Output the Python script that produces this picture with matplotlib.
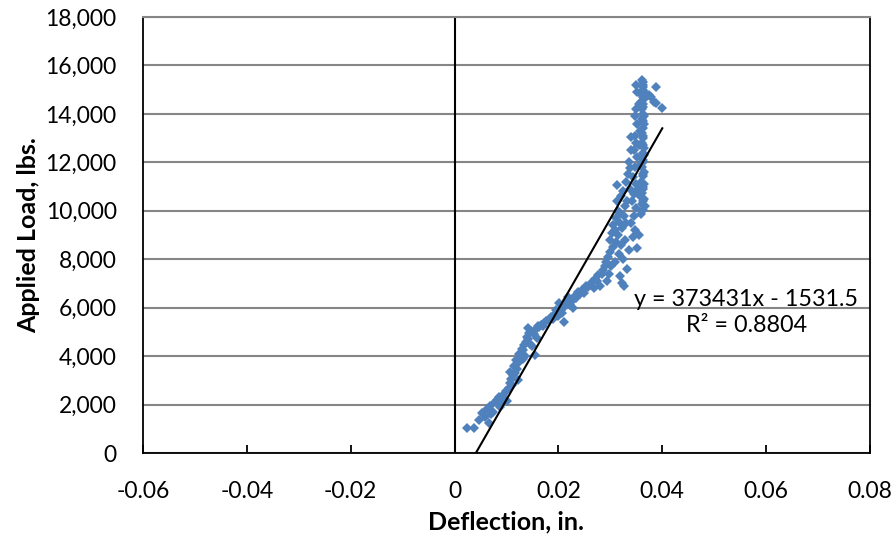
import numpy as np
import matplotlib
matplotlib.use("Agg")
from matplotlib import pyplot as plt
from matplotlib.ticker import FuncFormatter, MultipleLocator

# Deflection (in.) and applied load (lbs.)
deflection_low = [0.0023, 0.0037, 0.0048, 0.0052, 0.0058, 0.0062, 0.0066, 0.0068, 0.0071, 0.0074,
                  0.0078, 0.0081, 0.0085, 0.0088, 0.0090, 0.0093, 0.0096, 0.0099, 0.0101, 0.0104,
                  0.0106, 0.0107, 0.0109, 0.0111, 0.0113, 0.0115, 0.0116, 0.0118, 0.0120, 0.0122,
                  0.0123, 0.0125, 0.0127, 0.0129, 0.0131, 0.0132, 0.0134, 0.0136, 0.0137, 0.0139,
                  0.0141, 0.0142, 0.0144, 0.0146, 0.0148, 0.0150, 0.0152, 0.0154, 0.0156, 0.0158,
                  0.0160, 0.0163, 0.0166, 0.0170, 0.0173, 0.0177, 0.0181, 0.0185, 0.0189]
load_low = [1030, 1020, 1350, 1650, 1500, 1800, 1250, 1950, 1600, 1700,
            2100, 2200, 2300, 1900, 2050, 2400, 2250, 2550, 2150, 2700,
            3350, 2900, 3050, 2800, 3200, 3600, 3300, 3850, 3450, 3000,
            3700, 4100, 3950, 4300, 4250, 3900, 4450, 4000, 4600, 4800,
            5150, 4700, 4950, 4500, 5050, 4400, 4900, 4050, 5100, 4750,
            5250, 5200, 5300, 5250, 5350, 5450, 5500, 5600, 5550]

deflection_mid = [0.0193, 0.0196, 0.0199, 0.0201, 0.0204, 0.0207, 0.0210, 0.0213, 0.0216, 0.0219,
                  0.0222, 0.0225, 0.0228, 0.0231, 0.0234, 0.0237, 0.0241, 0.0245, 0.0249, 0.0253,
                  0.0257, 0.0261, 0.0265, 0.0268, 0.0271, 0.0274, 0.0277, 0.0280, 0.0283, 0.0286]
load_mid = [5750, 5900, 5650, 6200, 5900, 5800, 5400, 6050, 6300, 6450,
            6100, 6250, 6000, 6500, 6400, 6650, 6550, 6750, 6600, 6900,
            6850, 6950, 7050, 6800, 7200, 7100, 7350, 6900, 7400, 7550]

deflection_steep = [0.0289, 0.0291, 0.0293, 0.0295, 0.0297, 0.0299, 0.0300, 0.0302, 0.0303, 0.0305,
                    0.0306, 0.0308, 0.0309, 0.0310, 0.0311, 0.0312, 0.0313, 0.0314, 0.0315, 0.0316,
                    0.0317, 0.0318, 0.0319, 0.0320, 0.0321, 0.0322, 0.0323, 0.0324, 0.0325, 0.0326,
                    0.0327, 0.0328, 0.0329, 0.0330, 0.0331, 0.0332, 0.0333, 0.0334, 0.0335, 0.0336,
                    0.0337, 0.0338, 0.0339, 0.0339]
load_steep = [7700, 7900, 7100, 8100, 7400, 8300, 8800, 7700, 9100, 8500,
              9400, 7900, 9200, 9700, 8700, 11050, 10400, 9000, 10000, 9550,
              8200, 7300, 9900, 8600, 10600, 7000, 9300, 10800, 8000, 9800,
              6900, 10200, 8800, 11200, 9500, 10400, 7600, 11500, 8400, 12000,
              11750, 10900, 13050, 12500]

deflection_column = [0.0362, 0.0360, 0.0364, 0.0361, 0.0363, 0.0359, 0.0362, 0.0365, 0.0361, 0.0363,
                     0.0360, 0.0362, 0.0364, 0.0361, 0.0363, 0.0360, 0.0362, 0.0364, 0.0361, 0.0363,
                     0.0360, 0.0362, 0.0364, 0.0361, 0.0363, 0.0362, 0.0361, 0.0363, 0.0365, 0.0359,
                     0.0365, 0.0358, 0.0365, 0.0358, 0.0365, 0.0357, 0.0366, 0.0359,
                     0.0363, 0.0362, 0.0363, 0.0362, 0.0363, 0.0362, 0.0363, 0.0362, 0.0363, 0.0362,
                     0.0349, 0.0351, 0.0350, 0.0348, 0.0352, 0.0347, 0.0350, 0.0346, 0.0351, 0.0348,
                     0.0344, 0.0350, 0.0346, 0.0342, 0.0349, 0.0345, 0.0340, 0.0347, 0.0343, 0.0351,
                     0.0355, 0.0354, 0.0356, 0.0355]
load_column = [10050, 10300, 10500, 10750, 11000, 11200, 11450, 11600, 11800, 12000,
               12200, 12400, 12600, 12800, 13000, 13200, 13400, 13600, 13800, 14000,
               14200, 14400, 14600, 14800, 15000, 15200, 15400, 15300, 14900, 14500,
               13900, 13300, 12300, 11900, 11100, 10600, 10200, 9850,
               15100, 14700, 14300, 13700, 13100, 12700, 12100, 11500, 10900, 10400,
               15200, 14900, 14200, 13900, 13600, 13100, 12800, 12500, 12200, 11800,
               11400, 11100, 10700, 10400, 10100, 9800, 9500, 9200, 8900, 8450,
               9000, 10900, 12700, 14400]

deflection_outlier = [0.0375, 0.0378, 0.0387, 0.0385, 0.0388, 0.0399]
load_outlier = [14800, 14700, 15100, 14500, 14450, 14250]

# linear trendline as reported in the chart
slope = 373431
intercept = -1531.5
r_squared = 0.8804
trend_end = 0.04

x = np.array(deflection_low + deflection_mid + deflection_steep + deflection_column + deflection_outlier)
y = np.array(load_low + load_mid + load_steep + load_column + load_outlier)

plt.rcParams['font.family'] = ['Lato', 'DejaVu Sans']

fig = plt.figure(figsize=(8.94, 5.42), dpi=100)
ax = fig.add_axes([143 / 894, 1 - 453 / 542, (870 - 143) / 894, (453 - 17) / 542])

ax.set_xlim(-0.06, 0.08)
ax.set_ylim(0, 18000)
ax.xaxis.set_major_locator(MultipleLocator(0.02))
ax.yaxis.set_major_locator(MultipleLocator(2000))

ax.yaxis.grid(True, color='#868686', linewidth=1.5)
ax.set_axisbelow(True)

# y axis crosses at x = 0
ax.axvline(0, color='black', linewidth=1.5, zorder=2)

ax.plot(x, y, linestyle='none', marker='D', markersize=4.8, color='#4F81BD',
        markeredgewidth=0, zorder=3)

x0 = -intercept / slope
tx = np.array([x0, trend_end])
ax.plot(tx, slope * tx + intercept, color='black', linewidth=1.5, zorder=4)

ax.text(0.0562, 5800, f"y = {slope}x - {-intercept}\nR² = {r_squared}",
        ha='center', va='center', multialignment='center', fontsize=16.8, linespacing=1.25)

for side in ['left', 'right', 'bottom']:
    ax.spines[side].set_color('black')
    ax.spines[side].set_linewidth(1.3)
ax.spines['top'].set_color('#868686')
ax.spines['top'].set_linewidth(1.5)

ax.tick_params(axis='x', direction='in', length=6, width=1.3, pad=20, labelsize=16.5)
ax.tick_params(axis='y', length=0, pad=19, labelsize=16.5)

ax.xaxis.set_major_formatter(FuncFormatter(lambda v, p: "0" if abs(v) < 1e-9 else f"{v:.2f}"))
ax.yaxis.set_major_formatter(FuncFormatter(lambda v, p: f"{int(v):,}"))

ax.set_xlabel("Deflection, in.", fontsize=18, fontweight='bold', labelpad=6)
ax.set_ylabel("Applied Load, lbs.", fontsize=18, fontweight='bold', labelpad=4)

fig.savefig("out.png", dpi=100)
